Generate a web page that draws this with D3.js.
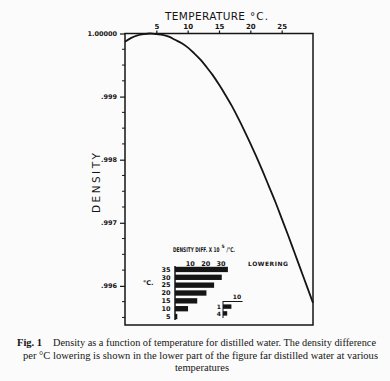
<!DOCTYPE html>
<html><head><meta charset="utf-8">
<script src="https://cdn.jsdelivr.net/npm/d3@7"></script>
<style>
html,body{margin:0;padding:0;background:#fbfbfb;}
svg{display:block;}
</style></head>
<body>
<script>
// ---- data ----
const temps = [0,1,2,3,4,5,6,7,8,9,10,11,12,13,14,15,16,17,18,19,20,21,22,23,24,25,26,27,28,29,30];
const density = [0.99987,0.99993,0.99997,0.99999,1.00000,0.99999,0.99998,0.99995,0.99990,0.99985,
  0.99978,0.99969,0.99959,0.99947,0.99934,0.99919,0.99903,0.99886,0.99867,0.99847,
  0.99826,0.99804,0.99781,0.99757,0.99733,0.99707,0.99681,0.99654,0.99627,0.99600,0.99573];
const xTicks = [5,10,15,20,25];
const yTicks = [1.000,0.999,0.998,0.997,0.996];
const yTickLabels = ["1.00000",".999",".998",".997",".996"];
const barTemps = ["35","30","25","20","15","10","5"];
const barValues = [34.5,30.5,25.5,20.5,14.5,8.5,1.5];
const barTicks = [10,20,30];
const insetTemps = ["1","4"];
const insetValues = [6,3];
const insetTick = ["10"];
const captionLines = [
  "Density as a function of temperature for distilled water. The density difference",
  "per °C lowering is shown in the lower part of the figure far distilled water at various",
  "temperatures"
];

const W=390,H=381;
const svg=d3.select("body").append("svg").attr("width",W).attr("height",H);
svg.append("rect").attr("width",W).attr("height",H).attr("fill","#fbfbfb");
const ink="#151515";
const sans="'DejaVu Sans', sans-serif";

const x=d3.scaleLinear().domain([0,30]).range([125,313]);
const y=d3.scaleLinear().domain([0.99538,1.0]).range([325,33.5]);

// frame
svg.append("rect").attr("x",x(0)).attr("y",y(1)).attr("width",x(30)-x(0)).attr("height",y(0.99538)-y(1))
  .attr("fill","none").attr("stroke",ink).attr("stroke-width",1.5);

// top axis
const gx=svg.append("g").attr("transform",`translate(0,${y(1)})`)
  .call(d3.axisTop(x).tickValues(xTicks).tickSize(3).tickPadding(2).tickFormat(d3.format("d")));
gx.select(".domain").remove();
gx.selectAll("line").attr("stroke",ink).attr("stroke-width",1.2);
gx.selectAll("text").attr("font-family",sans).attr("font-size",7).attr("font-weight","bold").attr("fill",ink);

svg.append("text").attr("x",165).attr("y",20)
  .attr("font-family",sans).attr("font-size",10.5).attr("fill",ink)
  .attr("textLength",80).attr("lengthAdjust","spacing").text("TEMPERATURE");
svg.append("text").attr("x",250).attr("y",20)
  .attr("font-family",sans).attr("font-size",10.5).attr("fill",ink)
  .attr("textLength",18).attr("lengthAdjust","spacing").text("°C.");

// left axis
const gy=svg.append("g").attr("transform",`translate(${x(0)},0)`)
  .call(d3.axisLeft(y).tickValues(yTicks).tickSize(5).tickPadding(3)
    .tickFormat((d,i)=>yTickLabels[i]));
gy.select(".domain").remove();
gy.selectAll("line").attr("stroke",ink).attr("stroke-width",1.2);
gy.selectAll("text").attr("font-family",sans).attr("font-size",6.5).attr("font-weight","bold").attr("fill",ink);
// minor ticks
const minor=d3.range(0.99550,1.0,0.00025).filter(v=>Math.abs(v*1000-Math.round(v*1000))>1e-6);
svg.append("g").selectAll("line").data(minor).join("line")
  .attr("x1",x(0)-3).attr("x2",x(0)).attr("y1",d=>y(d)).attr("y2",d=>y(d))
  .attr("stroke",ink).attr("stroke-width",1);

svg.append("text").attr("transform","translate(100,183) rotate(-90)").attr("text-anchor","middle")
  .attr("font-family",sans).attr("font-size",10.5).attr("fill",ink)
  .attr("textLength",60).attr("lengthAdjust","spacing").text("DENSITY");

// curve
const line=d3.line().x((d,i)=>x(temps[i])).y(d=>y(d)).curve(d3.curveMonotoneX);
svg.append("path").datum(density).attr("d",line).attr("fill","none")
  .attr("stroke",ink).attr("stroke-width",1.8);

// ---- bar inset ----
const bx=d3.scaleLinear().domain([0,30]).range([175,221]);
const by=d3.scaleBand().domain(barTemps).range([266,320]).paddingInner(0.32).paddingOuter(0.1);
const tStyle=s=>s.attr("font-family",sans).attr("font-weight","bold").attr("fill",ink);
svg.append("text").attr("transform","translate(173,252) scale(0.66,1)").attr("font-size",6.5).call(tStyle)
  .text("DENSITY DIFF. X 10");
svg.append("text").attr("x",221.5).attr("y",247.5).attr("font-size",4.5).call(tStyle).text("5");
svg.append("text").attr("transform","translate(226.5,252) scale(0.66,1)").attr("font-size",6.5).call(tStyle)
  .text("/°C.");
svg.append("text").attr("x",248).attr("y",265.5).attr("font-size",6).call(tStyle)
  .attr("textLength",40).attr("lengthAdjust","spacing").text("LOWERING");
svg.append("g").selectAll("text").data(barTicks).join("text")
  .attr("x",d=>bx(d)).attr("y",265.5).attr("text-anchor","middle")
  .attr("font-size",6.5).call(tStyle).text(d=>d);
svg.append("line").attr("x1",bx(0)).attr("x2",bx(0)).attr("y1",266).attr("y2",320)
  .attr("stroke",ink).attr("stroke-width",1.5);
svg.append("g").selectAll("rect").data(barValues).join("rect")
  .attr("x",bx(0)).attr("y",(d,i)=>by(barTemps[i])).attr("width",d=>bx(d)-bx(0))
  .attr("height",by.bandwidth()).attr("fill",ink);
svg.append("g").selectAll("text").data(barTemps).join("text")
  .attr("x",170.5).attr("y",d=>by(d)+by.bandwidth()/2+2.3).attr("text-anchor","end")
  .attr("font-size",6.5).call(tStyle).text(d=>d);
svg.append("text").attr("x",143).attr("y",285).attr("font-size",6.5).call(tStyle).text("°C.");

// small magnified inset
const ix=d3.scaleLinear().domain([0,10]).range([223,237]);
const iy=d3.scaleBand().domain(insetTemps).range([302,318]).padding(0.35);
svg.append("line").attr("x1",ix(0)).attr("x2",ix(0)).attr("y1",301).attr("y2",318).attr("stroke",ink).attr("stroke-width",1);
svg.append("line").attr("x1",ix(0)).attr("x2",ix(14)).attr("y1",301.5).attr("y2",301.5).attr("stroke",ink).attr("stroke-width",1);
svg.append("g").selectAll("text").data(insetTick).join("text")
  .attr("x",d=>ix(+d)).attr("y",298.5).attr("text-anchor","middle")
  .attr("font-size",6).call(tStyle).text(d=>d);
svg.append("g").selectAll("rect").data(insetValues).join("rect")
  .attr("x",ix(0)).attr("y",(d,i)=>iy(insetTemps[i])).attr("width",d=>ix(d)-ix(0))
  .attr("height",iy.bandwidth()).attr("fill",ink);
svg.append("g").selectAll("text").data(insetTemps).join("text")
  .attr("x",221).attr("y",d=>iy(d)+iy.bandwidth()/2+2.2).attr("text-anchor","end")
  .attr("font-size",6).call(tStyle).text(d=>d);

// caption
const serif="'Liberation Serif', 'Times New Roman', serif";
svg.append("text").attr("x",17).attr("y",346).attr("font-family",serif).attr("font-size",10.5)
  .attr("font-weight","bold").attr("fill",ink).text("Fig. 1");
svg.append("text").attr("x",53).attr("y",346).attr("font-family",serif).attr("font-size",10.5)
  .attr("fill",ink).attr("textLength",323).attr("lengthAdjust","spacingAndGlyphs").text(captionLines[0]);
svg.append("text").attr("x",23).attr("y",358.5).attr("font-family",serif).attr("font-size",10.5)
  .attr("fill",ink).attr("textLength",355).attr("lengthAdjust","spacingAndGlyphs").text(captionLines[1]);
svg.append("text").attr("x",202).attr("y",370.5).attr("text-anchor","middle").attr("font-family",serif)
  .attr("font-size",10.5).attr("fill",ink).text(captionLines[2]);
</script>
</body></html>
